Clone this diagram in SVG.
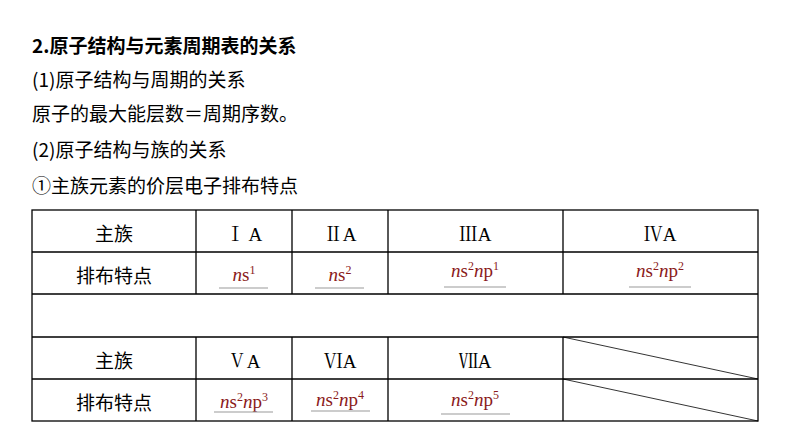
<svg xmlns="http://www.w3.org/2000/svg" width="794" height="447" viewBox="0 0 794 447">
<style>
.t{font-family:"Noto Sans CJK SC","Noto Sans",sans-serif;font-size:19px;fill:#000}
.c{font-family:"Noto Sans CJK SC",sans-serif;font-size:19px;text-anchor:middle}
.r{font-family:"Liberation Serif","Noto Serif CJK SC",serif;font-size:19px;text-anchor:middle}
.a{font-family:"Liberation Serif",serif;font-size:19px;text-anchor:middle;fill:#8b1a1a;font-style:normal}
.i{font-style:italic}
.s{font-size:12px}
.g{stroke:#000;stroke-width:1.3;fill:none}
.u{stroke:#999;stroke-width:1.2}
</style>
<rect width="794" height="447" fill="#fff"/>
<g id="text">
<text class="t" x="32" y="53" font-weight="bold" font-size="18">2.原子结构与元素周期表的关系</text>
<text class="t" x="32" y="87">(1)原子结构与周期的关系</text>
<text class="t" x="32" y="121">原子的最大能层数＝周期序数。</text>
<text class="t" x="32" y="157">(2)原子结构与族的关系</text>
<text class="t" x="32" y="193">①主族元素的价层电子排布特点</text>
</g>
<g id="table">
<rect class="g" x="32" y="210" width="726" height="211"/>
<path class="g" d="M32 252H758M32 294H758M32 337H758M32 379H758M196 210V294M292 210V294M388 210V294M563 210V294M196 337V421M292 337V421M388 337V421M563 337V421"/>
<path stroke="#000" stroke-width="0.8" d="M563 337L758 379M563 379L758 421"/>
<text class="c" x="114" y="241">主族</text>
<text class="c" x="114" y="283">排布特点</text>
<text class="c" x="114" y="368">主族</text>
<text class="c" x="114" y="410">排布特点</text>
<text class="r" x="244" y="241">Ⅰ A</text>
<text class="r" x="340" y="241">ⅡA</text>
<text class="r" x="475" y="241">ⅢA</text>
<text class="r" x="660" y="241">ⅣA</text>
<text class="r" x="244" y="368">ⅤA</text>
<text class="r" x="340" y="368">ⅥA</text>
<text class="r" x="475" y="368">ⅦA</text>
<text class="a" x="244" y="281"><tspan class="i">n</tspan>s<tspan class="s" dy="-7">1</tspan></text>
<text class="a" x="340" y="281"><tspan class="i">n</tspan>s<tspan class="s" dy="-7">2</tspan></text>
<text class="a" x="475" y="277"><tspan class="i">n</tspan>s<tspan class="s" dy="-7">2</tspan><tspan class="i" dy="7">n</tspan>p<tspan class="s" dy="-7">1</tspan></text>
<text class="a" x="660" y="277"><tspan class="i">n</tspan>s<tspan class="s" dy="-7">2</tspan><tspan class="i" dy="7">n</tspan>p<tspan class="s" dy="-7">2</tspan></text>
<text class="a" x="244" y="408"><tspan class="i">n</tspan>s<tspan class="s" dy="-7">2</tspan><tspan class="i" dy="7">n</tspan>p<tspan class="s" dy="-7">3</tspan></text>
<text class="a" x="340" y="406"><tspan class="i">n</tspan>s<tspan class="s" dy="-7">2</tspan><tspan class="i" dy="7">n</tspan>p<tspan class="s" dy="-7">4</tspan></text>
<text class="a" x="475" y="406"><tspan class="i">n</tspan>s<tspan class="s" dy="-7">2</tspan><tspan class="i" dy="7">n</tspan>p<tspan class="s" dy="-7">5</tspan></text>
<path class="u" d="M219 288H268M315 288H364M444 287H506M629 287H691M214 412H273M311 411H370M441 414H510"/>
</g>
</svg>
